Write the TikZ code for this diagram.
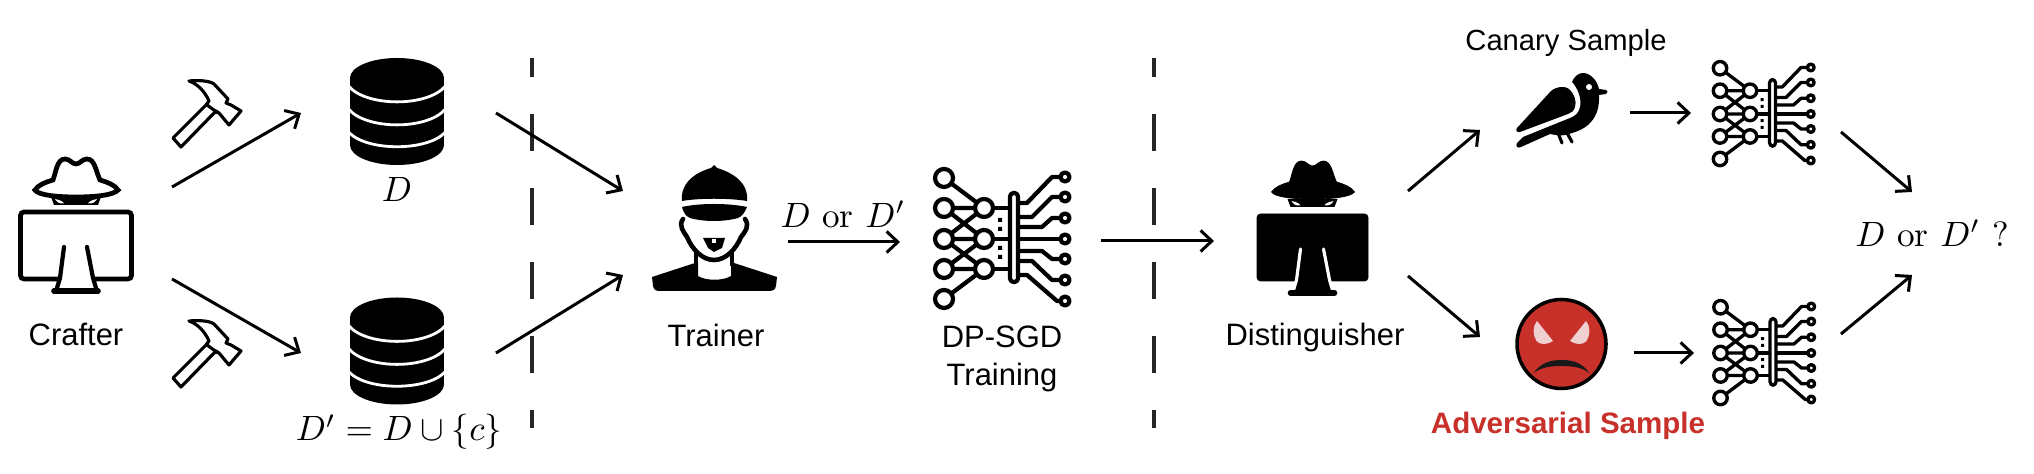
\documentclass[tikz,border=0pt]{standalone}
\usepackage{fontspec}
\setsansfont{Liberation Sans}
\usepackage{xcolor}
\usepackage{tikz}
\usetikzlibrary{arrows.meta}
\definecolor{advred}{HTML}{C8302A}
\definecolor{eyepink}{HTML}{EFCFCF}
\tikzset{
  flow/.style={-{Straight Barb[length=3.2pt,width=6pt]}, line width=0.85pt, black},
  divider/.style={line width=1pt, black!85, dash pattern=on 3.7mm off 3.7mm, dash phase=1.8mm},
  lbl/.style={font=\sffamily\fontsize{8.8pt}{10.6pt}\selectfont, align=center, inner sep=0pt},
  lblsmall/.style={font=\sffamily\fontsize{8.3pt}{10pt}\selectfont, inner sep=0pt},
  lblred/.style={font=\sffamily\bfseries\fontsize{8.4pt}{10pt}\selectfont, inner sep=0pt, text=advred},
  mathlbl/.style={font=\fontsize{10pt}{12pt}\selectfont, inner sep=0pt},
  netstroke/.style={line width=1.2pt, black, line join=round, line cap=round},
  % crafter is outlined, distinguisher is solid
  spyskin/.style={fill=white, draw=black, line width=1.35pt},
  stemfill/.style={fill=white},
  stemline/.style={draw=black, line width=1.2pt},
  spysolid/.style={spyskin/.style={fill=black, draw=black, line width=0.2pt},
    stemfill/.style={fill=black}, stemline/.style={draw=white, line width=0.9pt}},
  pics/dbicon/.style={code={
    \fill (0,-33.5) ellipse [x radius=47, y radius=20];
    \fill (-47,-33.5) rectangle (47,33.5);
    \fill (0,33.5) ellipse [x radius=47, y radius=20];
    \draw[white, line width=0.8pt] (-48,-25) .. controls (-30,-4.5) and (30,-4.5) .. (48,-25);
    \draw[white, line width=0.8pt] (-48,-2) .. controls (-30,18.5) and (30,18.5) .. (48,-2);
    \draw[white, line width=0.8pt] (-48,21) .. controls (-30,40) and (30,40) .. (48,21);
  }},
  pics/hammer/.style={code={
    \draw[line width=0.9pt, fill=white, line join=round] (-17,-33) .. controls (-6,-34) and (4,-33) .. (8,-30)
      -- (22,-15) -- (20,-11) -- (25,-9) -- (35,-3) -- (23,11) -- (13,-1) -- (10,-3) -- (-25,33) -- (-33,24)
      -- (0,-9) -- (3,-13) .. controls (-1,-22) and (-8,-30) .. (-17,-33) -- cycle;
    \draw[line width=0.9pt] (1,-9) -- (12,-1);
  }},
  pics/spy/.style={code={
    \path[spyskin] (-41,-40) .. controls (-38,-45) and (-30,-48) .. (-23,-50)
      .. controls (-20,-58) and (-19,-71) .. (-11,-71) .. controls (-6,-71) and (-4,-66) .. (0,-66)
      .. controls (4,-66) and (6,-71) .. (11,-71) .. controls (19,-71) and (20,-58) .. (24,-50)
      .. controls (31,-48) and (39,-45) .. (42,-40) .. controls (38,-35) and (20,-33) .. (0,-33)
      .. controls (-20,-33) and (-38,-35) .. (-41,-40) -- cycle;
    \fill (-25,-33) -- (-22,-25) -- (22,-25) -- (25,-33) -- cycle;
    \fill[white] (-12,-26.5) .. controls (-17,-26) and (-19,-28) .. (-21,-31) .. controls (-17,-30) and (-13,-29) .. (-12,-26.5) -- cycle;
    \fill[white] (12,-26.5) .. controls (17,-26) and (19,-28) .. (21,-31) .. controls (17,-30) and (13,-29) .. (12,-26.5) -- cycle;
    \path[spyskin, rounded corners=1pt] (-55.5,-18) rectangle (55.5,49);
    \fill[stemfill] (-12,17) -- (-16,48) -- (-18,53) -- (-19,60) -- (19,60) -- (18,53) -- (17,48) -- (11,17) -- cycle;
    \path[stemline, line cap=round] (-12,17) -- (-16,48) -- (-19,58);
    \path[stemline, line cap=round] (11,17) -- (17,48) -- (20,58);
    \draw[line width=1.6pt, line cap=round] (-22,61) -- (22,61);
  }},
  pics/trainericon/.style={code={
    \fill (-32,-33) .. controls (-34,-52) and (-17,-62) .. (-3,-66) -- (0,-69) -- (3,-66)
      .. controls (17,-62) and (35,-52) .. (33,-33) .. controls (15,-36) and (-15,-36) .. (-32,-33) -- cycle;
    \fill (-32,-27) .. controls (-15,-31) and (15,-31) .. (33,-27) .. controls (30,-20) and (28,-18) .. (24,-16)
      .. controls (10,-12) and (-10,-12) .. (-24,-16) .. controls (-28,-18) and (-30,-20) .. (-32,-27) -- cycle;
    \draw[line width=1.3pt, line cap=round] (-31,-15) .. controls (-36,-8) and (-30,-2) .. (-27,3)
      .. controls (-22,15) and (-12,26) .. (0,26) .. controls (12,26) and (22,15) .. (27,3)
      .. controls (31,-2) and (36,-8) .. (31,-15);
    \fill (-11,4) -- (11,4) -- (8,14) -- (0,18) -- (-6,14) -- cycle;
    \fill[white] (-2,5) rectangle (2,9);
    \draw[line width=1.2pt] (-18,18) -- (-18,32) (18,18) -- (18,32);
    \fill (-62,43) -- (-16,28) -- (-16,42) .. controls (-8,47) and (9,47) .. (17,42) -- (17,28) -- (63,43) -- (62,52)
      .. controls (61,56) and (59,57) .. (56,57) -- (-54,57) .. controls (-58,57) and (-60,56) .. (-61,52) -- cycle;
  }},
  pics/netchip/.style={code={
    \draw[netstroke] (-58,-61) -- (-18,-31) (-58,-31) -- (-18,-31) (-58,-31) -- (-18,0) (-18,-31) -- (-58,0)
      (-58,0) -- (-18,0) (-58,0) -- (-18,30) (-58,30) -- (-18,0) (-58,30) -- (-18,30) (-58,60) -- (-18,30);
    \draw[netstroke] (-18,-31) -- (10,-31) (-18,0) -- (10,0) (-18,30) -- (10,30);
    \draw[netstroke, fill=white] (-58,-61) circle (9) (-58,-31) circle (9) (-58,0) circle (9) (-58,30) circle (9) (-58,60) circle (9);
    \draw[netstroke, fill=white] (-18,-31) circle (9) (-18,0) circle (9) (-18,30) circle (9);
    \fill (-4,-21) rectangle (0,-17) (-4,-12) rectangle (0,-8) (-4,7) rectangle (0,11) (-4,16) rectangle (0,20);
    \draw[netstroke] (16,-36) -- (25,-36) -- (50,-62) -- (58,-62);
    \draw[netstroke] (16,-22) -- (30,-22) -- (50,-42) -- (58,-42);
    \draw[netstroke] (16,-12) -- (40,-12) -- (50,-21) -- (58,-21);
    \draw[netstroke] (16,0) -- (58,0);
    \draw[netstroke] (16,12) -- (40,12) -- (50,20) -- (58,20);
    \draw[netstroke] (16,22) -- (30,22) -- (50,41) -- (58,41);
    \draw[netstroke] (16,36) -- (25,36) -- (55,62) -- (58,62);
    \draw[netstroke, fill=white] (63,-62) circle (4.5) (63,-42) circle (4.5) (63,-21) circle (4.5) (63,0) circle (4.5)
      (63,20) circle (4.5) (63,41) circle (4.5) (63,62) circle (4.5);
    \draw[netstroke, fill=white, rounded corners=1pt] (8,-46) rectangle (16,43);
  }},
  pics/canarybird/.style={code={
    \fill (-43,18) -- (-9,-19) .. controls (-3,-24) and (6,-24) .. (9,-21) .. controls (14,-17) and (17,-8) .. (15,-3)
      .. controls (14,1) and (11,3) .. (8,4) -- (-40,22) .. controls (-43,23) and (-45,20) .. (-43,18) -- cycle;
    \fill (12,-28) .. controls (18,-22) and (22,-10) .. (20,-3) .. controls (19,3) and (15,6) .. (10,8) -- (-37,27)
      -- (-43,33) .. controls (-45,36) and (-42,39) .. (-39,37) -- (-10,24) .. controls (0,26) and (6,26) .. (12,23)
      .. controls (30,18) and (40,6) .. (39,-15) -- (46,-16) .. controls (48,-17) and (48,-20) .. (46,-20) -- (39,-21)
      .. controls (37,-30) and (30,-37) .. (23,-37) .. controls (18,-37) and (14,-33) .. (12,-28) -- cycle;
    \fill[white] (29,-23) circle (3);
    \draw[line width=0.9pt, line cap=round] (-2,23) -- (2,33) (7,23) -- (12,32);
  }},
  pics/angryface/.style={code={
    \draw[line width=1pt, fill=advred] (0,0) circle (44.5);
    \fill[eyepink] (-24.5,-23) -- (-8.5,-3) .. controls (-14,1) and (-22,1) .. (-25,-3) .. controls (-29,-9) and (-29,-18) .. (-24.5,-23) -- cycle;
    \fill[eyepink] (24.5,-23) -- (8.5,-3) .. controls (14,1) and (22,1) .. (25,-3) .. controls (29,-9) and (29,-18) .. (24.5,-23) -- cycle;
    \fill[black!90] (-28,29) .. controls (-20,18) and (-10,16) .. (0,16) .. controls (10,16) and (20,18) .. (28,29)
      .. controls (20,23) and (10,22) .. (0,22) .. controls (-10,22) and (-20,23) .. (-28,29) -- cycle;
  }},
}
\begin{document}
\begin{tikzpicture}[x=0.01cm, y=-0.01cm]
\useasboundingbox (0,0) rectangle (2034,474);
% --- Crafter side ---
\pic (crafter) at (76,230) {spy};
\node[lbl] (crafterlbl) at (76,334) {Crafter};
\pic (hammerA) at (206,114) {hammer};
\pic (hammerB) at (206,354) {hammer};
\pic (dbA) at (397,111.5) {dbicon};
\pic (dbB) at (397,351) {dbicon};
\node[mathlbl] (dbAlbl) at (397,189) {$D$};
\node[mathlbl] (dbBlbl) at (399,432) {$D' = D \cup \{c\}$};
\coordinate (crafterUp) at (172,187);
\coordinate (crafterDown) at (172,279);
\coordinate (dbAin) at (301,113);
\coordinate (dbBin) at (301,353);
\draw[flow] (crafterUp) -- (dbAin);
\draw[flow] (crafterDown) -- (dbBin);
% --- Trainer ---
\coordinate (divAtop) at (532,58);
\coordinate (divAbot) at (532,428);
\draw[divider] (divAtop) -- (divAbot);
\pic (trainer) at (714,234) {trainericon};
\node[lbl] (trainerlbl) at (716,335) {Trainer};
\coordinate (dbAout) at (496,113);
\coordinate (dbBout) at (496,353);
\coordinate (trainerA) at (623,191);
\coordinate (trainerB) at (623,275);
\draw[flow] (dbAout) -- (trainerA);
\draw[flow] (dbBout) -- (trainerB);
\coordinate (trainerOut) at (788,242);
\coordinate (netAin) at (900,242);
\draw[flow] (trainerOut) -- (netAin);
\node[mathlbl] (orlbl) at (843,214) {$D$ or $D'$};
\pic (netA) at (1002,239) {netchip};
\node[lbl] (dpsgd) at (1002,359) {DP-SGD\\Training};
% --- Distinguisher ---
\coordinate (divBtop) at (1154,58);
\coordinate (divBbot) at (1154,428);
\draw[divider] (divBtop) -- (divBbot);
\coordinate (netAout) at (1101,241);
\coordinate (distIn) at (1214,241);
\draw[flow] (netAout) -- (distIn);
\pic[spysolid] (dist) at (1312.5,232) {spy};
\node[lbl] (distlbl) at (1315,338) {Distinguisher};
\coordinate (distUp) at (1408,191);
\coordinate (distDown) at (1408,276);
\coordinate (birdIn) at (1480,130);
\coordinate (faceIn) at (1480,337);
\draw[flow] (distUp) -- (birdIn);
\draw[flow] (distDown) -- (faceIn);
% --- Canary branch ---
\node[lblsmall] (canarylbl) at (1566,43) {Canary Sample};
\pic (bird) at (1560,110) {canarybird};
\pic[scale=0.75, netstroke/.style={line width=0.95pt, black, line join=round, line cap=round}] (netB) at (1763.5,114) {netchip};
\coordinate (birdOut) at (1630,113);
\coordinate (netBin) at (1691,113);
\draw[flow] (birdOut) -- (netBin);
% --- Adversarial branch ---
\pic (face) at (1561.5,344) {angryface};
\node[lblred] (advlbl) at (1568,426) {Adversarial Sample};
\pic[scale=0.75, netstroke/.style={line width=0.95pt, black, line join=round, line cap=round}] (netC) at (1764,353) {netchip};
\coordinate (faceOut) at (1634,353);
\coordinate (netCin) at (1694,353);
\draw[flow] (faceOut) -- (netCin);
% --- Guess ---
\node[mathlbl] (guess) at (1932,233) {$D$ or $D'$ ?};
\coordinate (netBout) at (1841,132);
\coordinate (netCout) at (1841,334);
\coordinate (guessA) at (1912,192);
\coordinate (guessB) at (1912,275);
\draw[flow] (netBout) -- (guessA);
\draw[flow] (netCout) -- (guessB);
\end{tikzpicture}
\end{document}
